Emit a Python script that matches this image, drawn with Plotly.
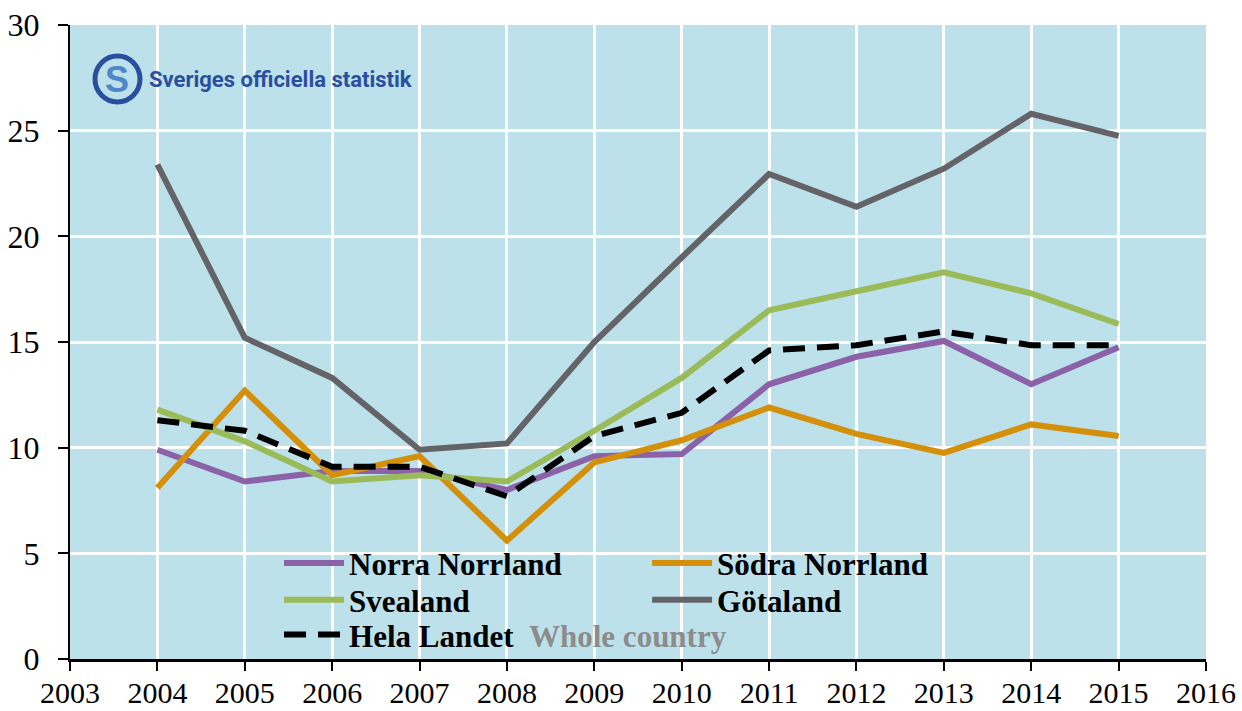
import plotly.graph_objects as go

years = list(range(2004, 2016))
norra_norrland = [9.9, 8.4, 8.9, 8.9, 8.0, 9.6, 9.7, 13.0, 14.3, 15.05, 13.0, 14.75]
sodra_norrland = [8.1, 12.7, 8.7, 9.6, 5.6, 9.3, 10.35, 11.9, 10.65, 9.75, 11.1, 10.55]
svealand = [11.8, 10.3, 8.4, 8.7, 8.4, 10.8, 13.3, 16.5, 17.4, 18.3, 17.3, 15.85]
gotaland = [23.4, 15.2, 13.3, 9.9, 10.2, 15.0, 19.0, 22.95, 21.4, 23.2, 25.8, 24.75]
hela_landet = [11.3, 10.8, 9.1, 9.1, 7.7, 10.55, 11.65, 14.6, 14.85, 15.5, 14.85, 14.85]

x_ticks = list(range(2003, 2017))
y_ticks = [0, 5, 10, 15, 20, 25, 30]

# name, values, colour, dash, legend id, legend x (paper), legend y (paper)
series = [
    ("Norra Norrland", norra_norrland, "#8B62A7", "solid", "legend", 0.184, 0.151),
    ("Södra Norrland", sodra_norrland, "#D4900A", "solid", "legend2", 0.508, 0.151),
    ("Svealand", svealand, "#9BBB59", "solid", "legend3", 0.184, 0.093),
    ("Götaland", gotaland, "#646468", "solid", "legend4", 0.508, 0.093),
    ("Hela Landet&nbsp;&nbsp;<span style='color:#8C8C8C'>Whole country</span>", hela_landet,
     "#000000", "22px,12px", "legend5", 0.184, 0.038),
]

fig = go.Figure()
for name, vals, color, dash, leg, lx, ly in series:
    fig.add_trace(go.Scatter(
        x=years, y=vals, mode="lines", name=name, legend=leg,
        line=dict(color=color, width=6, dash=dash),
    ))

leg_font = dict(family="Liberation Serif", size=31, color="black", weight="bold")
legends = {}
for name, vals, color, dash, leg, lx, ly in series:
    legends[leg] = dict(orientation="v", x=lx, y=ly, yanchor="middle", xanchor="left",
                        bgcolor="rgba(0,0,0,0)", font=leg_font,
                        tracegroupgap=0, itemwidth=60)

fig.update_layout(
    width=1242, height=711,
    margin=dict(l=70, r=36, t=25, b=52),
    paper_bgcolor="white",
    plot_bgcolor="#BCE1EB",
    showlegend=True,
    **legends,
)

fig.update_xaxes(
    range=[2003, 2016], automargin=False,
    tickmode="array", tickvals=x_ticks, ticktext=[str(v) for v in x_ticks],
    showgrid=True, gridcolor="white", gridwidth=3,
    showline=True, linecolor="black", linewidth=3,
    ticks="outside", ticklen=9, tickwidth=2, tickcolor="black",
    ticklabelstandoff=-4,
    tickfont=dict(family="Liberation Serif", size=30, color="black"),
    zeroline=False,
)
fig.update_yaxes(
    range=[0, 30], automargin=False,
    tickmode="array", tickvals=y_ticks,
    showgrid=True, gridcolor="white", gridwidth=3,
    showline=True, linecolor="black", linewidth=2,
    ticks="outside", ticklen=10, tickwidth=2, tickcolor="black",
    ticklabelstandoff=12,
    tickfont=dict(family="Liberation Serif", size=32, color="black"),
    zeroline=False,
)

# Logo: ring with S, plus text
fig.add_shape(type="circle", xref="paper", yref="paper",
              x0=(95 - 70) / 1136, x1=(140 - 70) / 1136,
              y0=(659 - 102) / 634, y1=(659 - 56) / 634,
              line=dict(color="#2A4F9E", width=5), fillcolor="rgba(0,0,0,0)")
fig.add_annotation(xref="paper", yref="paper", x=(117 - 70) / 1136, y=(659 - 79) / 634,
                   text="<b>S</b>", showarrow=False, xanchor="center", yanchor="middle",
                   font=dict(family="Liberation Sans", size=36, color="#4F86C6"))
fig.add_annotation(xref="paper", yref="paper", x=(147 - 70) / 1136, y=(659 - 79) / 634,
                   text="Sveriges officiella statistik", showarrow=False,
                   xanchor="left", yanchor="middle",
                   font=dict(family="Roboto", size=22, color="#2A4F9E", weight="bold"))

fig.write_html("out.html", config={"displayModeBar": False},
               post_script="document.body.style.margin='0';document.body.style.padding='0';")
